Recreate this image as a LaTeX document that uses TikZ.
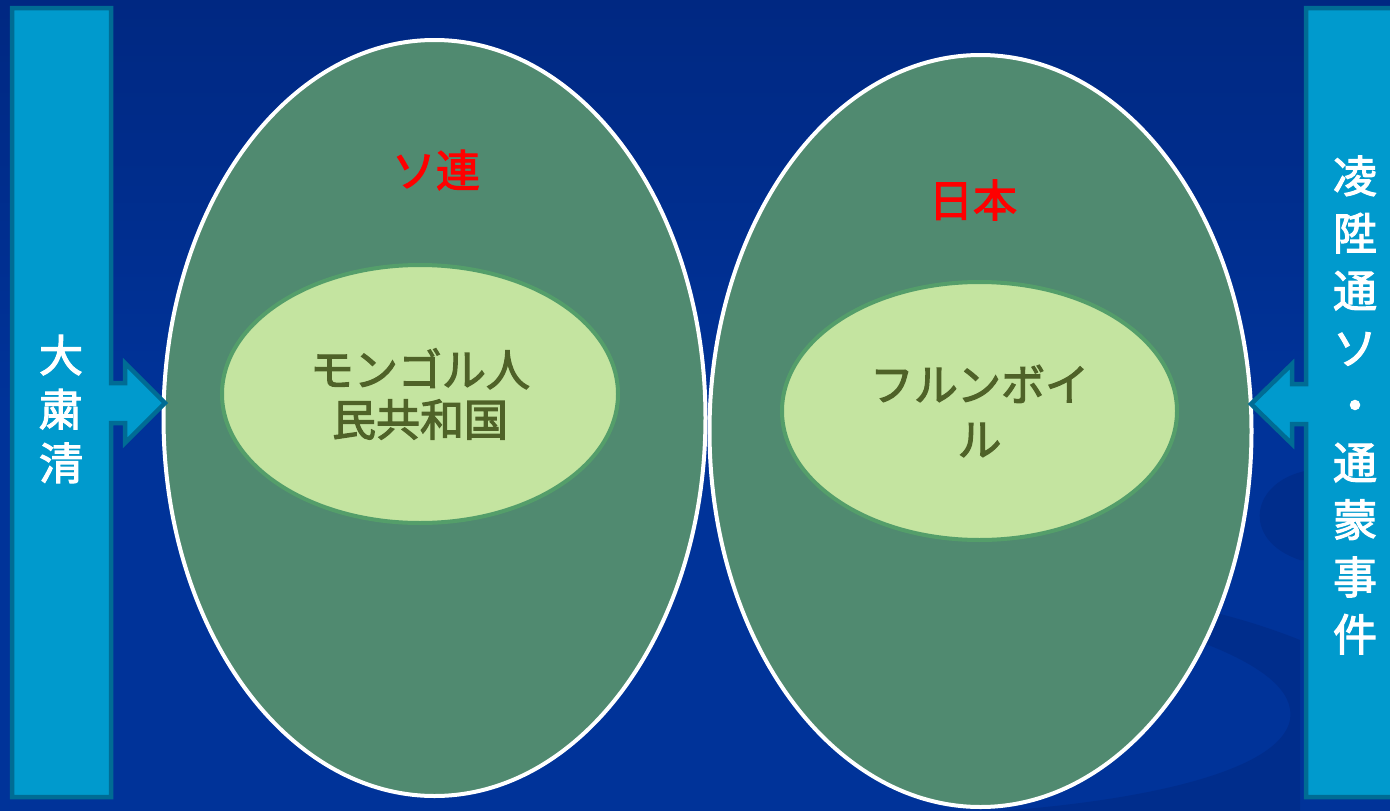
\documentclass[tikz,border=0pt]{standalone}
\usepackage{fontspec}
\newfontfamily\jp{Noto Sans CJK JP}[FakeBold=2.5]
\newfontfamily\jpt{Noto Sans CJK JP}[FakeBold=2.5]
\usetikzlibrary{shapes.geometric}
\definecolor{bgtop}{RGB}{0,40,130}
\definecolor{bgbot}{RGB}{0,51,153}
\definecolor{swirl}{RGB}{0,45,140}
\definecolor{barfill}{RGB}{0,154,205}
\definecolor{barline}{RGB}{0,108,148}
\definecolor{bigfill}{RGB}{80,138,112}
\definecolor{innerfill}{RGB}{196,228,160}
\definecolor{innerline}{RGB}{84,158,106}
\definecolor{innertext}{RGB}{79,98,40}
\definecolor{titlered}{RGB}{255,0,0}
\tikzset{
  barshape/.style={fill=barfill, draw=barline, line width=4.5pt, line join=miter},
  bigell/.style={ellipse, fill=bigfill, draw=white, line width=4pt, inner sep=0pt},
  innerell/.style={ellipse, fill=innerfill, draw=innerline, line width=4pt, inner sep=0pt,
    align=center, text=innertext, font=\jp\fontsize{44}{55}\selectfont},
  redtitle/.style={text=titlered, font=\jpt\fontsize{44}{50}\selectfont, inner sep=0pt},
  bartext/.style={text=white, align=center, inner sep=0pt},
}
\begin{document}
\begin{tikzpicture}[x=1pt,y=-1pt]
\useasboundingbox (0,0) rectangle (1390,811);
% background
\shade[top color=bgtop, bottom color=bgbot, middle color=bgbot] (0,0) rectangle (1390,811);
% subtle swirls
\fill[swirl] (1310,470) .. controls (1250,480) and (1240,540) .. (1300,560) -- (1320,560) -- (1320,470) -- cycle;
\fill[swirl] (990,585) .. controls (1150,620) and (1300,660) .. (1290,720)
  .. controls (1280,770) and (1150,800) .. (1000,811) -- (1300,811) -- (1300,640)
  .. controls (1200,600) and (1100,590) .. (990,585) -- cycle;
% big ellipses
\node[bigell, minimum width=542pt, minimum height=756pt] (sov) at (434.5,418) {};
\node[bigell, minimum width=542pt, minimum height=752pt] (jpn) at (980.5,431) {};
% inner ellipses
\node[innerell, minimum width=396pt, minimum height=258pt] (mgl) at (420,394)
  {\raisebox{-5pt}{モンゴル人}\\民共和国};
\node[innerell, minimum width=395pt, minimum height=258pt] (hlb) at (979.5,411)
  {フルンボイ\\ル};
% titles
\node[redtitle] (sovt) at (436,170) {ソ連};
\node[redtitle] (jpnt) at (973,200) {日本};
% left bar with arrow
\draw[barshape] (12,8) -- (111,8) -- (111,383) -- (125,383) -- (125,363) -- (165,403)
  -- (125,443) -- (125,423) -- (111,423) -- (111,797) -- (12,797) -- cycle;
% right bar with arrow
\draw[barshape] (1396,8) -- (1306,8) -- (1306,384) -- (1292,384) -- (1292,364) -- (1251,404)
  -- (1292,444) -- (1292,424) -- (1306,424) -- (1306,797) -- (1396,797);
% bar texts
\node[bartext, font=\jp\fontsize{44}{54}\selectfont] (purge) at (61,409) {大\\粛\\清};
\node[bartext, font=\jp\fontsize{44}{57.3}\selectfont] (incident) at (1355,405)
  {凌\\陞\\通\\ソ\\・\\通\\蒙\\事\\件};
\end{tikzpicture}
\end{document}
